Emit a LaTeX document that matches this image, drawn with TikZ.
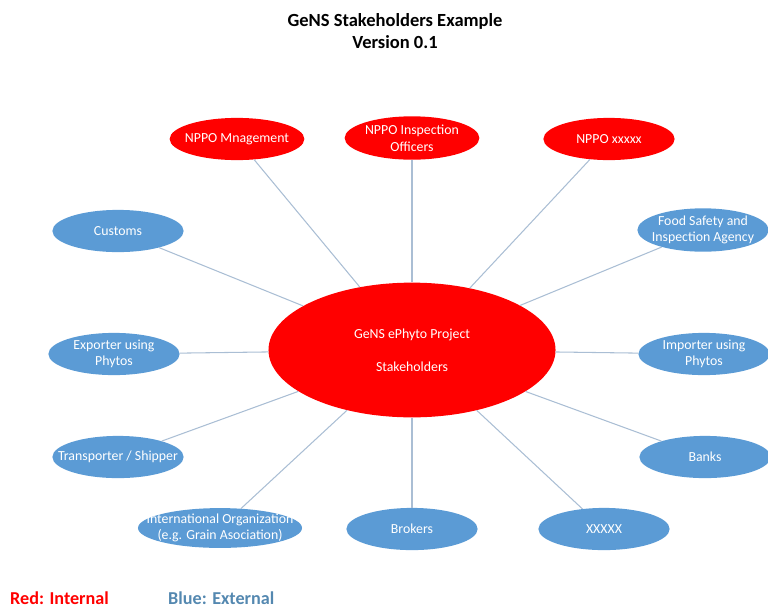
\documentclass[tikz,border=0pt]{standalone}
\usepackage{fontspec}
\setmainfont{Carlito}
\usetikzlibrary{shapes.geometric}
\definecolor{nppored}{RGB}{255,0,0}
\definecolor{extblue}{RGB}{91,155,213}
\definecolor{linkgray}{RGB}{170,190,212}
\definecolor{legendblue}{RGB}{84,136,176}
\tikzstyle{internal} = [ellipse, minimum width=112pt, minimum height=36pt, inner sep=-20pt, align=center, text=white, fill=nppored, font=\fontsize{11.8}{14.2}\selectfont]
\tikzstyle{external} = [ellipse, minimum width=112pt, minimum height=36pt, inner sep=-20pt, align=center, text=white, fill=extblue, font=\fontsize{11.8}{14.2}\selectfont]
\tikzstyle{link} = [draw=linkgray, line width=0.9pt]

\begin{document}
\begin{tikzpicture}[x=0.03cm, y=-0.03cm]
\useasboundingbox (0,0) rectangle (768,612);

%title
\node (title) at (395,31) [align=center, font=\bfseries\fontsize{15.8}{19}\selectfont] {GeNS Stakeholders Example\\Version 0.1};

%centre
\node (GS) at (412,350) [internal, minimum width=245pt, minimum height=115pt] {GeNS ePhyto Project\\[14pt]Stakeholders};

%internal row
\node (NM) at (237,139) [internal, minimum width=115pt] {NPPO Mnagement};
\node (NIO) at (412,138) [internal, minimum width=115pt, minimum height=37pt] {NPPO Inspection\\Officers};
\node (NX) at (609,139) [internal] {NPPO xxxxx};

%left side
\node (CU) at (118,231) [external] {Customs};
\node (EX) at (114,354) [external] {Exporter using\\Phytos};
\node (TS) at (118,457) [external] {Transporter / Shipper};
\node (IO) at (220,528) [external, minimum width=140pt, minimum height=34pt] {International Organization\\(e.g. Grain Asociation)};

%right side
\node (FS) at (703,230) [external, minimum height=37pt] {Food Safety and\\Inspection Agency};
\node (IM) at (704,354) [external] {Importer using\\Phytos};
\node (BK) at (705,457) [external] {Banks};

%bottom row
\node (BR) at (412,529) [external] {Brokers};
\node (XX) at (604,529) [external] {XXXXX};

%links
\foreach \n in {NM,NIO,NX,CU,EX,TS,IO,FS,IM,BK,BR,XX}
  \draw [link] (\n) -- (GS);

%legend
\node (LR) at (10,604) [anchor=base west, inner sep=0pt, text=nppored, font=\bfseries\fontsize{15.5}{18}\selectfont] {Red: Internal};
\node (LB) at (168,604) [anchor=base west, inner sep=0pt, text=legendblue, font=\bfseries\fontsize{15.5}{18}\selectfont] {Blue: External};

\end{tikzpicture}
\end{document}
